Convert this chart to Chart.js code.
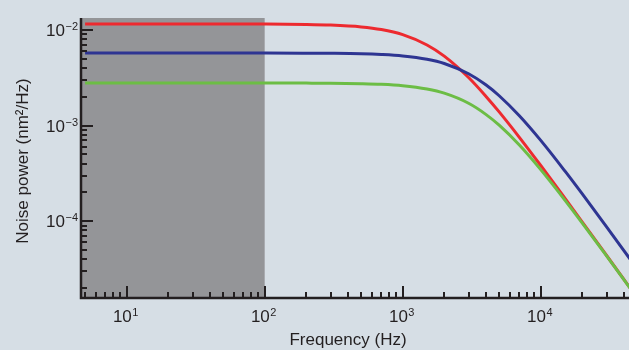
<!DOCTYPE html>
<html><head><meta charset="utf-8">
<script src="https://cdn.jsdelivr.net/npm/chart.js@4.4.1/dist/chart.umd.min.js"></script>
<style>html,body{margin:0;padding:0;background:#d6dee5;overflow:hidden}#wrap{width:629px;height:350px;position:relative}</style>
</head><body><div id="wrap"><canvas id="c" width="629" height="350"></canvas></div>
<script>
const frequencies = [5, 10, 30, 100, 200, 300, 500, 700, 1000, 1500, 2000, 3000, 4000, 5000, 7000, 10000, 15000, 20000, 30000, 45000];
// Noise power (nm^2/Hz)
const redPower   = [0.01156, 0.01156, 0.01156, 0.01153, 0.01143, 0.01126, 0.01077, 0.01011, 0.00894, 0.00697, 0.00532, 0.00318, 0.00203, 0.001389, 0.000753, 0.000382, 0.0001728, 0.0000979, 0.0000437, 0.00001946];
const bluePower  = [0.00574, 0.00574, 0.00574, 0.00574, 0.00572, 0.00570, 0.00564, 0.00554, 0.00535, 0.00494, 0.00446, 0.00348, 0.00267, 0.00205, 0.001266, 0.000699, 0.000333, 0.0001924, 0.0000871, 0.0000390];
const greenPower = [0.00279, 0.00279, 0.00279, 0.00279, 0.00278, 0.00277, 0.00274, 0.00270, 0.00261, 0.00241, 0.00218, 0.00171, 0.00131, 0.001009, 0.000626, 0.000346, 0.0001652, 0.0000954, 0.0000432, 0.00001937];
// Axis ticks
const xTickValues = [10, 100, 1000, 10000];
const xTickExponents = ['1', '2', '3', '4'];
const yTickValues = [1e-2, 1e-3, 1e-4];
const yTickExponents = ['\u22122', '\u22123', '\u22124'];
const shadedUpTo = 100;
const xTitle = 'Frequency (Hz)';
const yTitle = 'Noise power (nm\u00b2/Hz)';

const FONT = '"Liberation Sans", Arial, Helvetica, sans-serif';
const AXIS = '#231f20';

function series(vals){ return frequencies.map((f,i)=>({x:f,y:vals[i]})); }

function drawPow(ctx, x, y, base, exp, align){
  ctx.font = '17px ' + FONT;
  const wb = ctx.measureText(base).width;
  ctx.font = '11px ' + FONT;
  const we = ctx.measureText(exp).width;
  const total = wb + we + 0.5;
  let left = align === 'right' ? x - total : x - total/2;
  ctx.fillStyle = AXIS;
  ctx.textAlign = 'left';
  ctx.textBaseline = 'alphabetic';
  ctx.font = '17px ' + FONT;
  ctx.fillText(base, left, y);
  ctx.font = '11px ' + FONT;
  ctx.fillText(exp, left + wb + 0.5, y - 6);
}

const decorPlugin = {
  id: 'decor',
  beforeDatasetsDraw(chart){
    const {ctx, chartArea:a, scales:{x}} = chart;
    ctx.save();
    ctx.fillStyle = '#949598';
    const xr = x.getPixelForValue(shadedUpTo);
    ctx.fillRect(a.left, a.top, xr - a.left, a.bottom - a.top);
    ctx.restore();
  },
  afterDraw(chart){
    const {ctx, chartArea:a, scales:{x, y}} = chart;
    ctx.save();
    ctx.strokeStyle = AXIS;
    ctx.lineWidth = 2.5;
    ctx.beginPath();
    ctx.moveTo(a.left, a.top);
    ctx.lineTo(a.left, a.bottom);
    ctx.lineTo(a.right, a.bottom);
    ctx.stroke();
    ctx.lineWidth = 2;
    for (let e = 0; e <= 4; e++) {
      for (let m = 1; m <= 9; m++) {
        const v = m * Math.pow(10, e);
        if (v < x.min || v > x.max) continue;
        const px = Math.round(x.getPixelForValue(v));
        const len = m === 1 ? 12 : 6;
        ctx.beginPath();
        ctx.moveTo(px, a.bottom);
        ctx.lineTo(px, a.bottom - len);
        ctx.stroke();
      }
    }
    for (let e = -5; e <= -2; e++) {
      for (let m = 1; m <= 9; m++) {
        const v = m * Math.pow(10, e);
        if (v < y.min || v > y.max) continue;
        const py = Math.round(y.getPixelForValue(v));
        const len = m === 1 ? 12 : 6;
        ctx.beginPath();
        ctx.moveTo(a.left, py);
        ctx.lineTo(a.left + len, py);
        ctx.stroke();
      }
    }
    xTickValues.forEach((v,i)=>{
      const px = x.getPixelForValue(v);
      drawPow(ctx, px - 1, 322, '10', xTickExponents[i], 'center');
    });
    yTickValues.forEach((v,i)=>{
      const py = y.getPixelForValue(v);
      drawPow(ctx, a.left - 3, py + 6, '10', yTickExponents[i], 'right');
    });
    ctx.fillStyle = AXIS;
    ctx.font = '17px ' + FONT;
    ctx.textAlign = 'center';
    ctx.textBaseline = 'middle';
    ctx.fillText(xTitle, 348, 340);
    ctx.translate(23, 161);
    ctx.rotate(-Math.PI/2);
    ctx.fillText(yTitle, 0, 0);
    ctx.restore();
  }
};

new Chart(document.getElementById('c'), {
  type: 'line',
  data: {
    datasets: [
      {label:'red', data: series(redPower), borderColor:'#ed2a2f', borderWidth:3, order: 2},
      {label:'blue', data: series(bluePower), borderColor:'#2e3592', borderWidth:3, order: 1},
      {label:'green', data: series(greenPower), borderColor:'#6cbd45', borderWidth:3, order: 0}
    ]
  },
  options: {
    responsive: false,
    animation: false,
    devicePixelRatio: 1,
    layout: {padding: {left: 81, top: 18, right: 0, bottom: 52}},
    elements: {point: {radius: 0}, line: {cubicInterpolationMode: 'monotone', fill: false}},
    plugins: {legend: {display:false}, tooltip: {enabled:false}},
    scales: {
      x: {type:'logarithmic', min: 4.67, max: 43600, display: false},
      y: {type:'logarithmic', min: 1.57e-5, max: 0.01334, display: false}
    }
  },
  plugins: [decorPlugin]
});
</script>
</body></html>
